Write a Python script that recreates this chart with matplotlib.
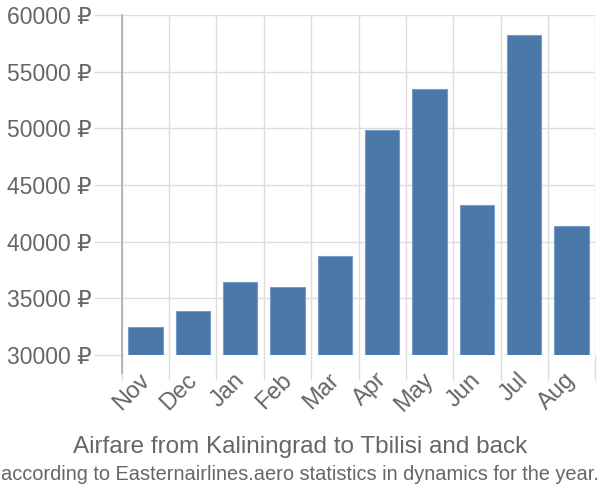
import matplotlib.pyplot as plt
from matplotlib import font_manager
from matplotlib.lines import Line2D
from matplotlib.transforms import ScaledTranslation
import numpy as np

# data
months = ["Nov", "Dec", "Jan", "Feb", "Mar", "Apr", "May", "Jun", "Jul", "Aug"]
prices = [32450, 33900, 36400, 36000, 38750, 49850, 53450, 43250, 58250, 41400]
y_ticks = [30000, 35000, 40000, 45000, 50000, 55000, 60000]

title = "Airfare from Kaliningrad to Tbilisi and back"
subtitle = "according to Easternairlines.aero statistics in dynamics for the year."

names = {f.name for f in font_manager.fontManager.ttflist}
base_font = "Liberation Sans" if "Liberation Sans" in names else "DejaVu Sans"
plt.rcParams['font.family'] = [base_font, 'DejaVu Sans']

text_col = "#666666"
grid_col = "#dddddd"
bar_col = "#4a78a8"

fig = plt.figure(figsize=(6, 5), dpi=100)
ax = fig.add_axes([0.203, 0.29, 0.789, 0.68])

x = np.arange(len(months))
ax.bar(x, prices, width=0.72, bottom=0, color=bar_col, edgecolor="#7a9cc4",
       linewidth=0.8, zorder=3)

ax.set_xlim(-0.5, len(months) - 0.5)
ax.set_ylim(30000, 60000)

# y axis
ax.set_yticks(y_ticks)
ax.set_yticklabels([f"{v} ₽" for v in y_ticks])
ax.tick_params(axis="y", length=20, width=1, color=grid_col, colors=text_col,
               labelsize=16.5, pad=2)
ax.yaxis.grid(True, color=grid_col, linewidth=1, zorder=0)

# x axis: labels at centres, tick lines at boundaries
ax.set_xticks(x)
ax.set_xticklabels(months, rotation=45, ha="right", rotation_mode="anchor")
ax.tick_params(axis="x", which="major", length=0, colors=text_col, labelsize=17, pad=10)
shift = ScaledTranslation(-5 / 72, 0, fig.dpi_scale_trans)
for lbl in ax.get_xticklabels():
    lbl.set_transform(lbl.get_transform() + shift)
ax.set_xticks(np.arange(len(months) + 1) - 0.5, minor=True)
ax.tick_params(axis="x", which="minor", length=18, width=1, color=grid_col)
ax.xaxis.grid(True, which="minor", color=grid_col, linewidth=1, zorder=0)

for s in ["top", "right", "bottom", "left"]:
    ax.spines[s].set_visible(False)
ax.add_line(Line2D([0, 0], [-0.053, 1], transform=ax.transAxes, color="#aaaaaa",
                   linewidth=1.2, clip_on=False, zorder=4))

fig.text(0.5, 0.107, title, ha="center", va="center", fontsize=17.5, color=text_col)
fig.text(0.5, 0.05, subtitle, ha="center", va="center", fontsize=14.4, color=text_col)

fig.savefig("out.png", dpi=100)
